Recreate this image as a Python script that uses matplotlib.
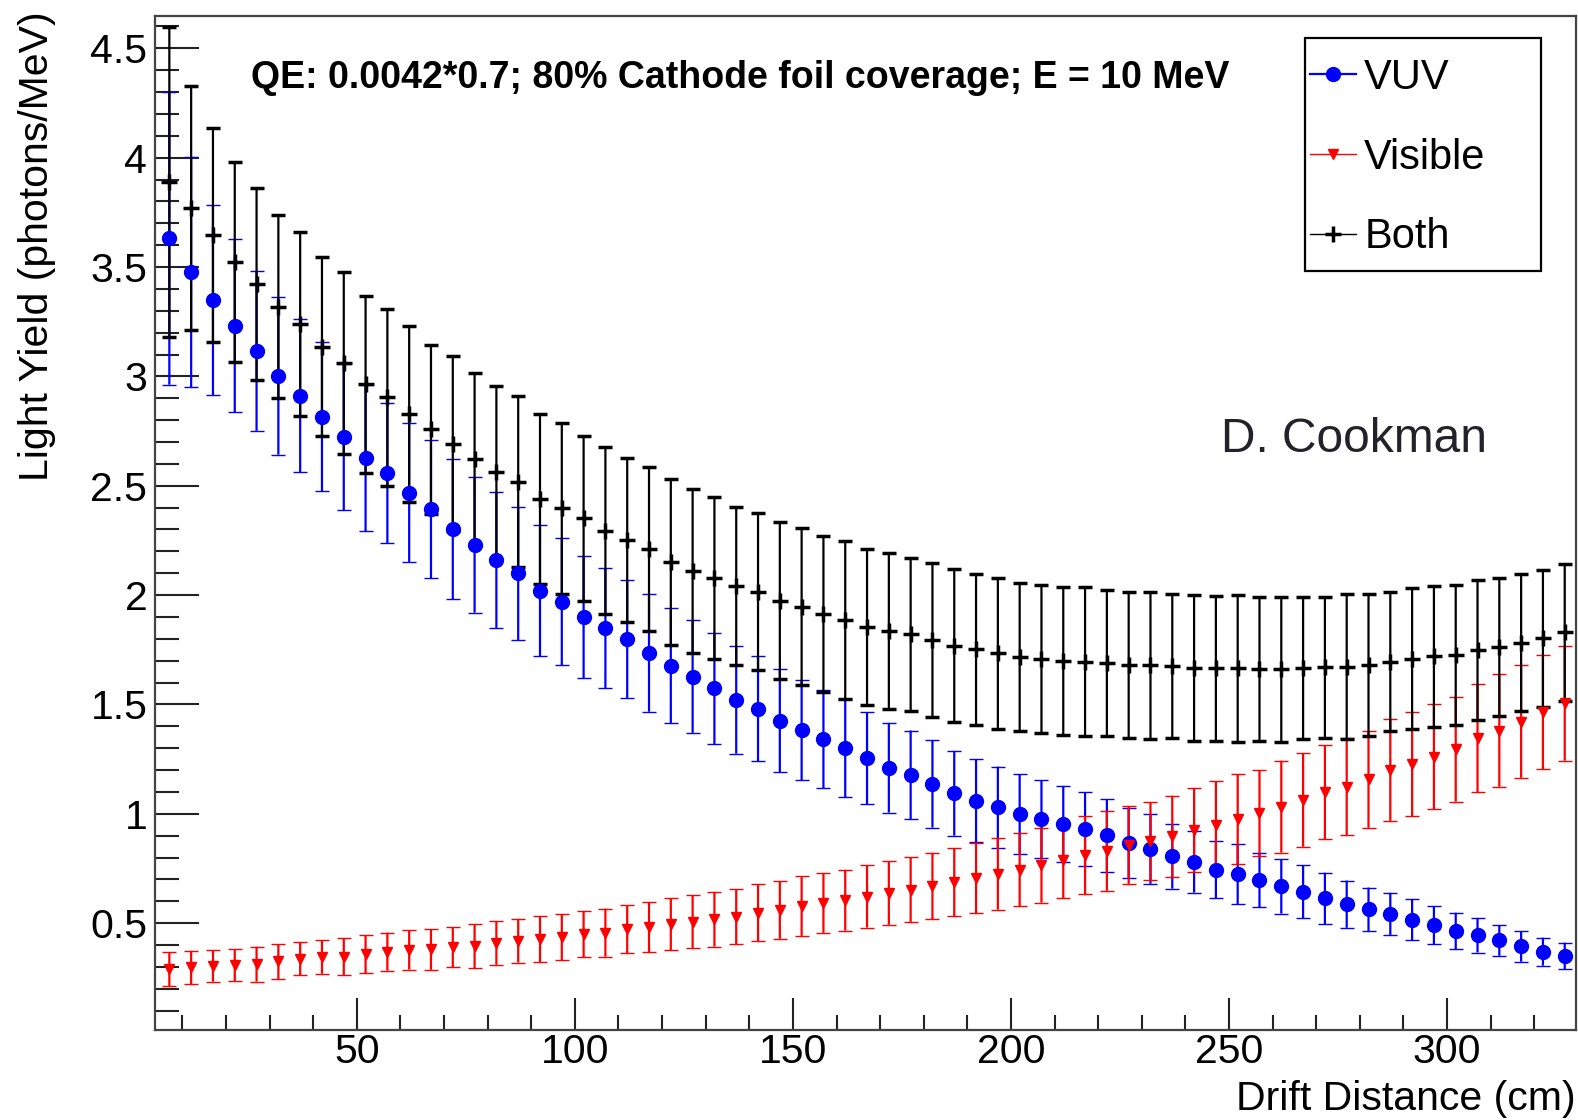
import numpy as np
import matplotlib
matplotlib.use("Agg")
from matplotlib import pyplot as plt
from matplotlib.lines import Line2D
from matplotlib.patches import Rectangle
from matplotlib.ticker import MultipleLocator, FormatStrFormatter

# drift distance of each bin centre (cm)
drift = np.arange(7, 330, 5)

vuv = [3.632, 3.476, 3.350, 3.231, 3.116, 3.002, 2.911, 2.816, 2.722, 2.626,
       2.557, 2.469, 2.393, 2.300, 2.230, 2.160, 2.100, 2.020, 1.970, 1.900,
       1.849, 1.800, 1.737, 1.678, 1.627, 1.574, 1.521, 1.480, 1.425, 1.384,
       1.341, 1.300, 1.254, 1.211, 1.178, 1.137, 1.094, 1.060, 1.030, 1.000,
       0.975, 0.955, 0.930, 0.901, 0.867, 0.840, 0.806, 0.780, 0.745, 0.723,
       0.698, 0.668, 0.644, 0.613, 0.587, 0.563, 0.542, 0.516, 0.490, 0.465,
       0.445, 0.421, 0.394, 0.370, 0.350]
vuv_err = [0.670, 0.525, 0.435, 0.395, 0.365, 0.360, 0.350, 0.340, 0.335, 0.335,
           0.320, 0.317, 0.315, 0.320, 0.310, 0.310, 0.305, 0.300, 0.290, 0.280,
           0.275, 0.270, 0.270, 0.263, 0.257, 0.255, 0.246, 0.240, 0.235, 0.230,
           0.223, 0.224, 0.210, 0.205, 0.203, 0.200, 0.194, 0.190, 0.186, 0.182,
           0.178, 0.173, 0.168, 0.165, 0.160, 0.160, 0.148, 0.140, 0.132, 0.137,
           0.125, 0.124, 0.120, 0.118, 0.108, 0.100, 0.097, 0.095, 0.087, 0.083,
           0.079, 0.070, 0.070, 0.064, 0.061]

visible = [0.290, 0.298, 0.305, 0.309, 0.313, 0.325, 0.338, 0.345, 0.347, 0.358,
           0.370, 0.378, 0.380, 0.390, 0.395, 0.410, 0.420, 0.427, 0.436, 0.450,
           0.457, 0.472, 0.482, 0.496, 0.507, 0.518, 0.530, 0.548, 0.561, 0.578,
           0.592, 0.605, 0.622, 0.638, 0.654, 0.670, 0.688, 0.706, 0.725, 0.745,
           0.765, 0.788, 0.810, 0.830, 0.857, 0.875, 0.897, 0.925, 0.950, 0.976,
           1.003, 1.033, 1.063, 1.098, 1.124, 1.158, 1.201, 1.226, 1.260, 1.296,
           1.347, 1.381, 1.422, 1.465, 1.505]
visible_err = [0.077, 0.076, 0.072, 0.073, 0.080, 0.080, 0.076, 0.076, 0.085, 0.086,
               0.087, 0.090, 0.093, 0.092, 0.100, 0.100, 0.100, 0.105, 0.105, 0.106,
               0.110, 0.110, 0.115, 0.118, 0.120, 0.125, 0.126, 0.130, 0.132, 0.136,
               0.136, 0.139, 0.142, 0.145, 0.148, 0.152, 0.156, 0.160, 0.163, 0.167,
               0.171, 0.175, 0.178, 0.182, 0.177, 0.179, 0.186, 0.192, 0.200, 0.205,
               0.196, 0.210, 0.213, 0.215, 0.222, 0.222, 0.233, 0.238, 0.240, 0.240,
               0.248, 0.257, 0.257, 0.260, 0.262]

both = [3.888, 3.769, 3.647, 3.525, 3.423, 3.319, 3.238, 3.136, 3.060, 2.964,
        2.905, 2.828, 2.758, 2.691, 2.621, 2.562, 2.519, 2.440, 2.397, 2.352,
        2.295, 2.252, 2.210, 2.153, 2.111, 2.077, 2.042, 2.016, 1.974, 1.947,
        1.913, 1.887, 1.853, 1.836, 1.821, 1.795, 1.769, 1.753, 1.734, 1.719,
        1.708, 1.699, 1.695, 1.690, 1.681, 1.679, 1.675, 1.667, 1.665, 1.665,
        1.661, 1.660, 1.665, 1.670, 1.673, 1.681, 1.696, 1.710, 1.720, 1.726,
        1.749, 1.763, 1.783, 1.803, 1.830]
both_err = [0.710, 0.558, 0.490, 0.457, 0.438, 0.420, 0.420, 0.410, 0.415, 0.405,
            0.405, 0.403, 0.385, 0.400, 0.393, 0.396, 0.392, 0.390, 0.390, 0.377,
            0.380, 0.376, 0.375, 0.380, 0.375, 0.370, 0.360, 0.360, 0.358, 0.360,
            0.356, 0.360, 0.356, 0.355, 0.350, 0.350, 0.350, 0.345, 0.345, 0.338,
            0.337, 0.340, 0.340, 0.333, 0.335, 0.335, 0.330, 0.335, 0.330, 0.335,
            0.330, 0.330, 0.325, 0.322, 0.330, 0.323, 0.316, 0.322, 0.322, 0.318,
            0.321, 0.315, 0.313, 0.314, 0.313]

labels = ["VUV", "Visible", "Both"]

plt.rcParams['font.family'] = ['Liberation Sans', 'DejaVu Sans']

fig = plt.figure(figsize=(15.78, 11.2), dpi=100)
ax = fig.add_axes([0.0982, 0.0804, 0.9003, 0.9054])


def draw(y, yerr, color, marker, ms, mew=1.0):
    eb = ax.errorbar(drift, y, yerr=yerr, fmt=marker, color=color, ms=ms, mew=mew,
                     ecolor=color, elinewidth=1.6, capsize=4.7, capthick=1.6)
    eb[2][0].set_snap(False)
    return eb


draw(vuv, vuv_err, 'blue', 'o', 10)
draw(visible, visible_err, 'red', 'v', 7)
draw(both, both_err, 'black', '+', 11, mew=2.5)

ax.set_xlim(3.7, 329.5)
ax.set_ylim(0.012, 4.648)
ax.xaxis.set_major_locator(MultipleLocator(50))
ax.xaxis.set_minor_locator(MultipleLocator(10))
ax.yaxis.set_major_locator(MultipleLocator(0.5))
ax.yaxis.set_minor_locator(MultipleLocator(0.1))
ax.xaxis.set_major_formatter(FormatStrFormatter('%g'))
ax.yaxis.set_major_formatter(FormatStrFormatter('%g'))

ax.tick_params(axis='both', which='both', direction='in', colors='#222222',
               labelcolor='black', labelsize=29.5, width=1.5, top=False, right=False)
ax.tick_params(axis='y', which='major', length=32, pad=5.5)
ax.tick_params(axis='y', which='minor', length=17)
ax.tick_params(axis='x', which='major', length=23, pad=2)
ax.tick_params(axis='x', which='minor', length=11)
for s in ax.spines.values():
    s.set_color('#444444')
    s.set_linewidth(1.6)

fig.text(37.5 / 1578, 1 - 11 / 1120, "Light Yield (photons/MeV)", rotation=90,
         ha='center', va='top', fontsize=29.5)
fig.text(1576 / 1578, 1 - 1099 / 1120, "Drift Distance (cm)", ha='right', va='center',
         fontsize=29.5)
fig.text(251 / 1578, 1 - 88.3 / 1120, "QE: 0.0042*0.7; 80% Cathode foil coverage; E = 10 MeV",
         ha='left', va='baseline', fontsize=27, fontweight='bold')
fig.text(1221 / 1578, 1 - 451.6 / 1120, "D. Cookman", ha='left', va='baseline',
         fontsize=34.5, color='#222228')

# legend
handles = [Line2D([], [], color='blue', lw=1.6, marker='o', ms=10),
           Line2D([], [], color='red', lw=1.0, marker='v', ms=7),
           Line2D([], [], color='black', lw=1.0, marker='+', ms=11, mew=2.5)]
ax.legend(handles, labels, loc='upper left', bbox_to_anchor=(1310 / 1578, 1 - 58 / 1120),
          bbox_transform=fig.transFigure, frameon=False, fontsize=30, handlelength=1.1,
          handletextpad=0.2, labelspacing=0.95, borderpad=0, borderaxespad=0)
fig.add_artist(Rectangle((1305 / 1578, 1 - 271 / 1120), 236 / 1578, 233 / 1120,
                         transform=fig.transFigure, fill=False, edgecolor='black', lw=1.6))

fig.savefig("out.png", dpi=100)
